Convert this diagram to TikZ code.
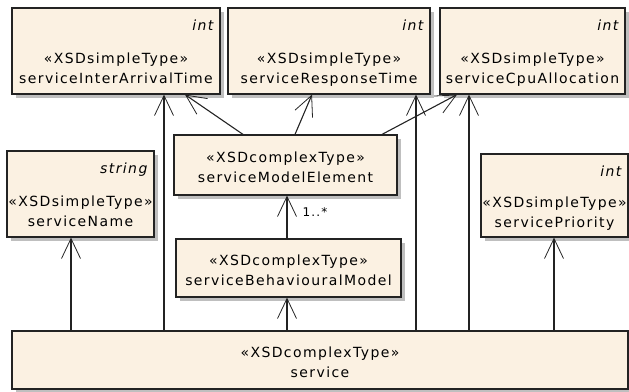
\documentclass[tikz,border=0pt]{standalone}
\usepackage{fontspec}
\newfontfamily\umlfont[LetterSpace=10]{DejaVu Sans}
\usetikzlibrary{arrows.meta,shadows}
\definecolor{classfill}{RGB}{251,241,226}
\definecolor{classline}{RGB}{35,35,35}
% stereotype and name, first line held down by a strut
\newcommand{\umltext}[3]{\rule{0pt}{#1pt}«#2»\\#3\rule[-5pt]{0pt}{0pt}}

\begin{document}
\begin{tikzpicture}[x=1pt,y=-1pt,
        every node/.style={font=\umlfont\fontsize{14}{20}\selectfont},
        classbox/.style={draw=classline, line width=1.2pt, fill=classfill, inner sep=0pt, align=center,
          general shadow={fill=black!25, shadow xshift=4pt, shadow yshift=-4pt}},
        typelbl/.style={font=\umlfont\itshape\fontsize{14}{15}\selectfont, anchor=north east, inner xsep=7pt, inner ysep=12.5pt},
        mult/.style={font=\umlfont\fontsize{12}{13}\selectfont, anchor=west, inner sep=2pt},
        dep/.style={draw=classline, line width=1.1pt, -{Straight Barb[length=20pt,width=19pt,line width=0.8pt]}}]
        \useasboundingbox (0,0) rectangle (629,391);
        % simple types
        \node[classbox, minimum width=208pt, minimum height=86pt, label={[typelbl]north east:int}] (iat) at (116,51) {\umltext{49}{XSDsimpleType}{serviceInterArrivalTime}};
        \node[classbox, minimum width=202pt, minimum height=86pt, label={[typelbl]north east:int}] (rt) at (329,51) {\umltext{49}{XSDsimpleType}{serviceResponseTime}};
        \node[classbox, minimum width=185pt, minimum height=86pt, label={[typelbl]north east:int}] (cpu) at (532.5,51) {\umltext{49}{XSDsimpleType}{serviceCpuAllocation}};
        \node[classbox, minimum width=147pt, minimum height=86pt, label={[typelbl]north east:string}] (name) at (80.5,194) {\umltext{49}{XSDsimpleType}{serviceName}};
        \node[classbox, minimum width=147pt, minimum height=83pt, label={[typelbl]north east:int}] (prio) at (554.5,195.5) {\umltext{49}{XSDsimpleType}{servicePriority}};
        % complex types
        \node[classbox, minimum width=223pt, minimum height=60pt] (sme) at (285.5,165) {\umltext{19}{XSDcomplexType}{serviceModelElement}};
        \node[classbox, minimum width=225pt, minimum height=58pt] (sbm) at (288.5,268) {\umltext{19}{XSDcomplexType}{serviceBehaviouralModel}};
        \node[classbox, minimum width=616pt, minimum height=58pt] (svc) at (320,360) {\umltext{19}{XSDcomplexType}{service}};
        % connectors
        \draw[dep] (svc.north -| 71,0) -- (name.south -| 71,0);
        \draw[dep] (svc.north -| 164,0) -- (iat.south -| 164,0);
        \draw[dep] (svc.north -| 287,0) -- (sbm.south -| 287,0);
        \draw[dep] (sbm.north -| 287,0) -- node[mult, pos=0.62, xshift=13pt] (mul) {1..*} (sme.south -| 287,0);
        \draw[dep] (svc.north -| 416,0) -- (rt.south -| 416,0);
        \draw[dep] (svc.north -| 469,0) -- (cpu.south -| 469,0);
        \draw[dep] (svc.north -| 554,0) -- (prio.south -| 554,0);
        \draw[dep] (sme.north -| 243,0) -- (iat.south -| 185,0);
        \draw[dep] (sme.north -| 295,0) -- (rt.south -| 312,0);
        \draw[dep] (sme.north -| 382,0) -- (cpu.south -| 457,0);
\end{tikzpicture}
\end{document}
